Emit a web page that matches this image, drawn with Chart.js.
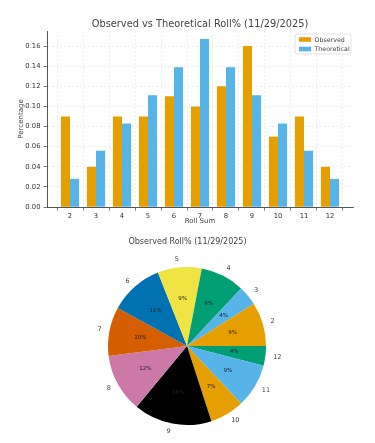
<!DOCTYPE html>
<html>
<head>
<meta charset="utf-8">
<script src="https://cdn.jsdelivr.net/npm/chart.js@4.4.1/dist/chart.umd.min.js"></script>
<style>
    html, body { margin: 0; padding: 0; background: #fff; }
    #bar-box { position: absolute; left: 0; top: 0; width: 375px; height: 230px; }
    #pie-box { position: absolute; left: 0; top: 230px; width: 375px; height: 213px; }
</style>
</head>
<body>
<div id="bar-box"><canvas id="chart1"></canvas></div>
<div id="pie-box"><canvas id="chart2"></canvas></div>

<script>
    const rolls = [2, 3, 4, 5, 6, 7, 8, 9, 10, 11, 12];
    const observed = [0.09, 0.04, 0.09, 0.09, 0.11, 0.10, 0.12, 0.16, 0.07, 0.09, 0.04];
    const theoretical = [0.028, 0.056, 0.083, 0.111, 0.139, 0.167, 0.139, 0.111, 0.083, 0.056, 0.028];
    const pieColors = ['#E69F00', '#56B4E9', '#009E73', '#F0E442', '#0072B2', '#D55E00',
                       '#CC79A7', '#000000', '#E69F00', '#56B4E9', '#009E73'];

    const FONT = "'DejaVu Sans', sans-serif";
    const TXT = '#444';

    // titles, axis labels and the legend box, drawn the matplotlib way
    const barDecor = {
        id: 'barDecor',
        afterDraw(chart) {
            const ctx = chart.ctx;
            const a = chart.chartArea;
            ctx.save();
            ctx.fillStyle = TXT;
            ctx.textAlign = 'center';
            ctx.textBaseline = 'middle';
            ctx.font = '9.8px ' + FONT;
            ctx.fillText('Observed vs Theoretical Roll% (11/29/2025)', (a.left + a.right) / 2, 24);
            ctx.font = '7px ' + FONT;
            ctx.fillText('Roll Sum', (a.left + a.right) / 2, 221);
            ctx.translate(21, (a.top + a.bottom) / 2);
            ctx.rotate(-Math.PI / 2);
            ctx.fillText('Percentage', 0, 0);
            ctx.restore();

            // legend
            ctx.save();
            const lx = 295, ly = 34, lw = 56, lh = 20;
            ctx.fillStyle = 'rgba(255,255,255,0.8)';
            ctx.strokeStyle = '#dcdcdc';
            ctx.lineWidth = 0.8;
            ctx.beginPath();
            ctx.roundRect(lx, ly, lw, lh, 2);
            ctx.fill();
            ctx.stroke();
            ctx.font = '6.3px ' + FONT;
            ctx.textBaseline = 'middle';
            ctx.textAlign = 'left';
            chart.data.datasets.forEach((ds, i) => {
                const y = ly + 5.5 + i * 9.5;
                ctx.fillStyle = ds.backgroundColor;
                ctx.fillRect(lx + 4, y - 2.3, 12, 4.6);
                ctx.fillStyle = TXT;
                ctx.fillText(ds.label, lx + 19.5, y + 0.5);
            });
            ctx.restore();
        }
    };

    function load_bar() {
        const ctx = document.getElementById('chart1');
        new Chart(ctx, {
            type: 'bar',
            data: {
                datasets: [{
                    label: 'Observed',
                    data: rolls.map((r, i) => ({ x: r, y: observed[i] })),
                    backgroundColor: '#E69F00'
                }, {
                    label: 'Theoretical',
                    data: rolls.map((r, i) => ({ x: r, y: theoretical[i] })),
                    backgroundColor: '#56B4E9'
                }]
            },
            options: {
                responsive: true,
                maintainAspectRatio: false,
                animation: false,
                datasets: { bar: { categoryPercentage: 0.7, barPercentage: 1.0 } },
                layout: { padding: { left: 0, right: 22, top: 31, bottom: 0 } },
                plugins: { legend: { display: false }, tooltip: { enabled: false } },
                scales: {
                    x: {
                        type: 'linear',
                        offset: false,
                        min: 1.115,
                        max: 12.885,
                        afterFit: (s) => { s.height = 23; },
                        ticks: {
                            stepSize: 1, includeBounds: false, padding: 2,
                            color: '#333', font: { family: FONT, size: 6.8 }
                        },
                        grid: { color: '#e2e2e2', lineWidth: 0.6, tickLength: 3.5, tickColor: '#555', tickWidth: 0.8 },
                        border: { display: true, color: '#555', width: 1, dash: [2, 2] }
                    },
                    y: {
                        min: 0,
                        max: 0.175,
                        afterFit: (s) => { s.width = 47; },
                        ticks: {
                            stepSize: 0.02, includeBounds: false, padding: 3,
                            color: '#333', font: { family: FONT, size: 6.8 },
                            callback: (v) => v.toFixed(2)
                        },
                        grid: { color: '#e2e2e2', lineWidth: 0.6, tickLength: 3.5, tickColor: '#555', tickWidth: 0.8 },
                        border: { display: true, color: '#555', width: 1, dash: [2, 2] }
                    }
                }
            },
            plugins: [barDecor]
        });
    }

    // outer labels at 1.1 r and percentages at 0.6 r, like matplotlib
    const pieDecor = {
        id: 'pieDecor',
        afterDraw(chart) {
            const ctx = chart.ctx;
            const meta = chart.getDatasetMeta(0);
            const values = chart.data.datasets[0].data;
            const total = values.reduce((a, b) => a + b, 0);
            ctx.save();
            ctx.fillStyle = TXT;
            ctx.textAlign = 'center';
            ctx.textBaseline = 'middle';
            ctx.font = '8px ' + FONT;
            ctx.fillText('Observed Roll% (11/29/2025)', chart.width / 2, 12);
            meta.data.forEach((arc, i) => {
                const p = arc.getProps(['x', 'y', 'startAngle', 'endAngle', 'outerRadius'], true);
                const mid = (p.startAngle + p.endAngle) / 2;
                const c = Math.cos(mid), s = Math.sin(mid);
                ctx.font = '6.5px ' + FONT;
                ctx.fillStyle = TXT;
                ctx.textAlign = c > 0 ? 'left' : 'right';
                ctx.fillText(String(chart.data.labels[i]), p.x + c * p.outerRadius * 1.1, p.y + s * p.outerRadius * 1.1);
                ctx.textAlign = 'center';
                ctx.font = '5.5px ' + FONT;
                ctx.fillStyle = '#222';
                const pct = Math.round(values[i] / total * 100) + '%';
                ctx.fillText(pct, p.x + c * p.outerRadius * 0.6, p.y + s * p.outerRadius * 0.6);
            });
            ctx.restore();
        }
    };

    function load_pie() {
        const ctx = document.getElementById('chart2');
        // matplotlib goes counter-clockwise from 3 o'clock, Chart.js clockwise: reverse and rotate
        new Chart(ctx, {
            type: 'pie',
            data: {
                labels: rolls.slice().reverse(),
                datasets: [{
                    data: observed.slice().reverse(),
                    backgroundColor: pieColors.slice().reverse(),
                    borderWidth: 0
                }]
            },
            options: {
                responsive: true,
                maintainAspectRatio: false,
                animation: false,
                rotation: 90,
                layout: { padding: { left: 108, right: 109, top: 37, bottom: 18 } },
                plugins: { legend: { display: false }, tooltip: { enabled: false } }
            },
            plugins: [pieDecor]
        });
    }

    load_bar();
    load_pie();
</script>
</body>
</html>
